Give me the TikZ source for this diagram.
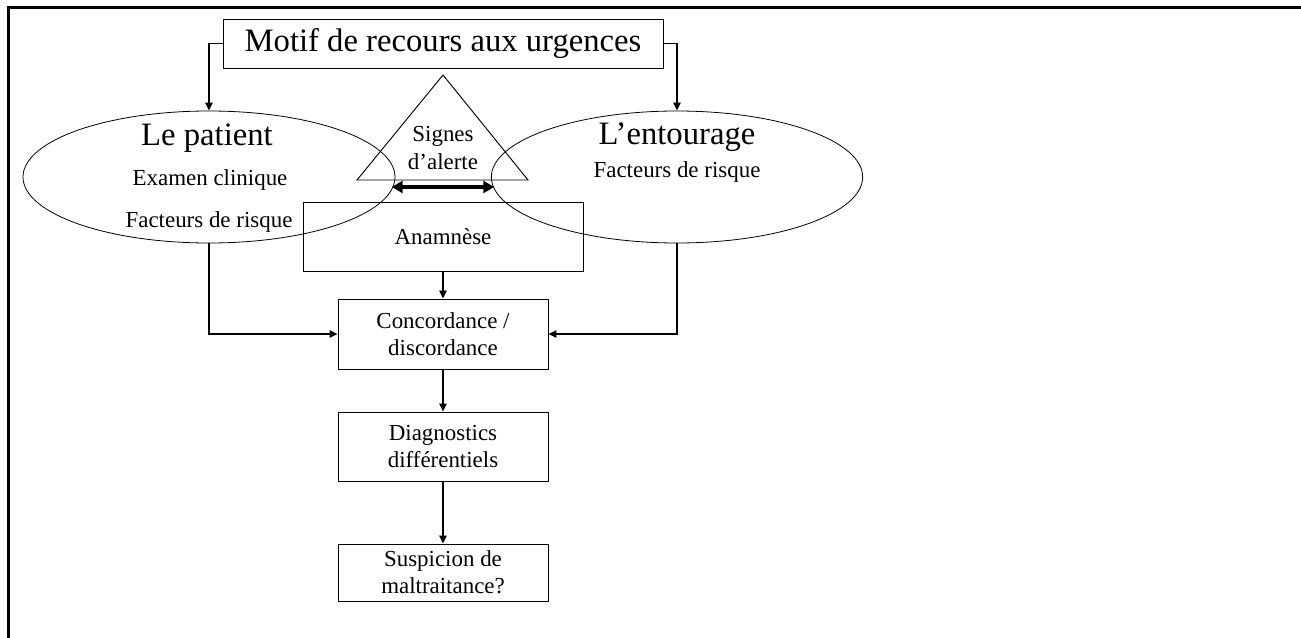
\documentclass[tikz,border=0pt]{standalone}
\usepackage{fontspec}
\setmainfont{Liberation Serif}
\usetikzlibrary{arrows.meta,shapes.geometric}
\begin{document}
\begin{tikzpicture}[x=0.75pt,y=-0.75pt,
  box/.style={draw, line width=0.7pt, rectangle, inner sep=0pt, align=center},
  oval/.style={draw, line width=0.6pt, ellipse, inner sep=0pt},
  bigtxt/.style={font=\fontsize{24.5}{29}\selectfont, inner sep=0pt},
  smalltxt/.style={font=\fontsize{17.2}{20.3}\selectfont, align=center, inner sep=0pt},
  conn/.style={line width=1.3pt, -{Triangle[length=6pt,width=5.5pt]}},
  dbl/.style={line width=3pt, {Triangle[length=8pt,width=9pt]}-{Triangle[length=8pt,width=9pt]}}]
\useasboundingbox (0,0) rectangle (1301,638);
% frame
\draw[line width=2.25pt, line join=miter] (8,640) -- (8,8) -- (1305,8);
% top box
\node[box, bigtxt, minimum width=330pt, minimum height=36.75pt] (motif) at (443,43.5) {Motif de recours aux urgences};
% ellipses
\node[oval, minimum width=279pt, minimum height=99pt] (patient) at (209,177) {};
\node[oval, minimum width=278.5pt, minimum height=99pt] (entourage) at (677,177) {};
\node[bigtxt] (lepatient) at (207,138) {Le patient};
\node[smalltxt] (examen) at (210,180) {Examen clinique};
\node[smalltxt] (facteursA) at (209,222) {Facteurs de risque};
\node[bigtxt] (lentourage) at (677,137) {L’entourage};
\node[smalltxt] (facteursB) at (677,172) {Facteurs de risque};
% triangle
\coordinate (tA) at (443,75);
\coordinate (tB) at (528,180);
\coordinate (tC) at (357,180);
\draw[line width=0.7pt] (tA) -- (tB) -- (tC) -- cycle;
\node[smalltxt] (signes) at (443,148) {Signes\\d’alerte};
% double arrow
\coordinate (da1) at (392,187);
\coordinate (da2) at (494,187);
\draw[dbl] (da1) -- (da2);
% boxes
\node[box, smalltxt, draw, minimum width=210pt, minimum height=51.75pt] (anamnese) at (443,236.5) {Anamnèse};
\node[box, smalltxt, draw, minimum width=157.5pt, minimum height=52.5pt] (concord) at (443,334) {Concordance /\\discordance};
\node[box, smalltxt, draw, minimum width=157.5pt, minimum height=51.75pt] (diag) at (443,446.5) {Diagnostics\\différentiels};
\node[box, smalltxt, draw, minimum width=157.5pt, minimum height=42.75pt] (susp) at (443,572.5) {Suspicion de\\maltraitance?};
% connectors
\draw[conn] (motif.west) -| (patient.north);
\draw[conn] (motif.east) -| (entourage.north);
\draw[conn] (patient.south) |- (concord.west);
\draw[conn] (entourage.south) |- (concord.east);
\draw[conn] (anamnese.south) -- (concord.north);
\draw[conn] (concord.south) -- (diag.north);
\draw[conn] (diag.south) -- (susp.north);
\end{tikzpicture}
\end{document}
